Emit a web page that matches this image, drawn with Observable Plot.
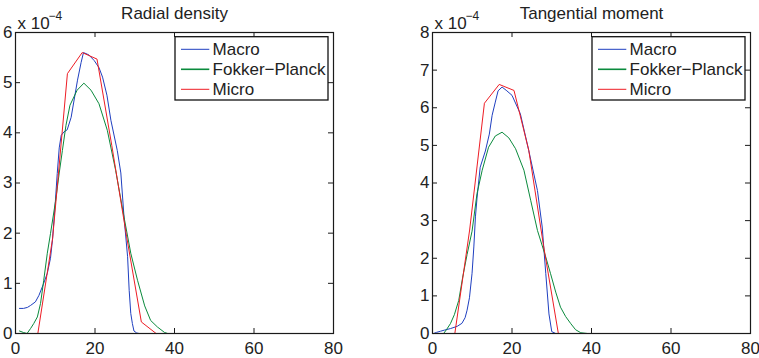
<!DOCTYPE html>
<html><head><meta charset="utf-8">
<script src="https://cdn.jsdelivr.net/npm/d3@7"></script>
<script src="https://cdn.jsdelivr.net/npm/@observablehq/plot@0.6"></script>
<style>
body{margin:0;background:#fff;}
#wrap{display:flex;width:759px;height:358px;font-family:"Liberation Sans",Arial,Helvetica,sans-serif;}
#wrap svg{overflow:visible;display:block;}
</style></head><body><div id="wrap"></div>
<script>
// ---- data (y values in units of 1e-4) ----
const seriesNames = ["Macro", "Fokker\u2212Planck", "Micro"];
const seriesColors = ["#1f3fc0", "#0a8a3c", "#ee1c24"];
const xTicks = [0, 20, 40, 60, 80];
const yTicksRadial = [0, 1, 2, 3, 4, 5, 6];
const yTicksTang = [0, 1, 2, 3, 4, 5, 6, 7, 8];

// Micro (coarse grid)
const microX = [1.9, 5.62, 9.34, 13.06, 16.78, 20.5, 24.22, 27.94, 31.66, 35.38, 39.1, 42.82, 46.54, 50.26, 53.98, 57.7, 61.42, 65.14, 68.86, 72.58];
const radialMicro = [0, 0, 1.9, 5.18, 5.60, 5.47, 3.75, 1.94, 0.23, 0, 0, 0, 0, 0, 0, 0, 0, 0, 0, 0];
const tangMicro = [0, 0, 2.75, 6.12, 6.62, 6.46, 4.87, 2.33, 0, 0, 0, 0, 0, 0, 0, 0, 0, 0, 0, 0];

// Macro, radial density
const radialMacroX = [1.0, 2.0, 3.0, 3.8, 5.0, 5.9, 7.0, 8.0, 8.8, 9.3, 10.0, 10.5, 11.0, 11.5, 12.2, 13.0, 14.0, 15.6, 16.5, 17.1, 18.0, 18.5, 19.8, 21.0, 21.9, 23.0, 24.0, 25.6, 26.5, 27.3, 28.2, 28.6, 29.0, 29.4, 29.8, 30.5, 31.1, 72.6];
const radialMacro = [0.50, 0.50, 0.52, 0.56, 0.63, 0.76, 0.98, 1.20, 1.50, 1.86, 2.60, 3.19, 3.70, 3.95, 4.02, 4.06, 4.31, 5.05, 5.40, 5.60, 5.57, 5.55, 5.44, 5.30, 5.11, 4.75, 4.25, 3.65, 3.20, 2.32, 1.53, 0.86, 0.40, 0.20, 0.05, 0.01, 0, 0];

// Fokker-Planck, radial density
const radialFPX = [1.0, 2.0, 2.9, 3.8, 4.6, 5.5, 6.3, 7.1, 8.0, 8.8, 10.1, 11.0, 11.8, 12.7, 13.7, 15.5, 17.2, 19.0, 21.0, 23.1, 25.2, 27.3, 29.0, 30.7, 32.5, 34.0, 35.7, 37.5, 38.3, 72.6];
const radialFP = [0.05, 0.02, 0.0, 0.1, 0.2, 0.33, 0.6, 1.06, 1.6, 1.99, 2.65, 3.2, 3.65, 4.15, 4.55, 4.85, 4.99, 4.85, 4.58, 4.05, 3.25, 2.32, 1.6, 1.06, 0.55, 0.26, 0.13, 0.02, 0, 0];

// Macro, tangential moment
const tangMacroX = [0.3, 1.0, 2.0, 3.0, 4.5, 6.2, 7.4, 8.2, 8.7, 9.3, 9.95, 10.4, 10.8, 11.2, 12.0, 13.3, 14.3, 15.0, 15.8, 16.5, 17.5, 18.7, 20.0, 22.1, 24.2, 26.4, 27.6, 28.5, 29.3, 30.0, 31.0, 72.6];
const tangMacro = [0, 0.03, 0.06, 0.09, 0.13, 0.19, 0.27, 0.42, 0.62, 0.95, 1.6, 2.3, 3.1, 3.6, 4.42, 4.85, 5.3, 5.8, 6.15, 6.45, 6.55, 6.45, 6.33, 5.84, 4.87, 3.8, 2.83, 1.59, 0.52, 0.05, 0, 0];

// Fokker-Planck, tangential moment
const tangFPX = [2.8, 3.5, 4.5, 5.5, 6.6, 7.6, 8.7, 9.95, 11.2, 12.5, 14.1, 15.8, 17.5, 19.2, 20.9, 23.0, 24.7, 26.4, 28.5, 29.7, 31.0, 32.2, 33.5, 34.8, 36.0, 37.3, 39.0, 72.6];
const tangFP = [0, 0.1, 0.26, 0.5, 0.88, 1.5, 2.1, 2.72, 3.72, 4.34, 4.95, 5.25, 5.35, 5.2, 4.91, 4.34, 3.54, 2.74, 2.03, 1.59, 1.1, 0.7, 0.45, 0.26, 0.1, 0.02, 0, 0];

const zip = (xs, ys) => xs.map((x, i) => ({x, y: ys[i]}));

const FONT = 17;
const TXT = "#222";
const AX = "#1a1a1a";

function panel({title, width, ml, mr, yMax, yTicks, macro, fp, micro}) {
  const height = 358, mt = 32, mb = 25;
  const pw = width - ml - mr, ph = height - mt - mb;
  const series = [macro, fp, micro];
  const T = 5; // inward tick length
  const plot = Plot.plot({
    width, height,
    marginLeft: ml, marginRight: mr, marginTop: mt, marginBottom: mb,
    style: {fontFamily: '"Liberation Sans", Arial, sans-serif', fontSize: FONT + "px", color: TXT, background: "white"},
    x: {domain: [0, 80]},
    y: {domain: [0, yMax]},
    marks: [
      ...series.map((d, i) => Plot.line(d, {x: "x", y: "y", stroke: seriesColors[i], strokeWidth: 1})),
      Plot.frame({stroke: AX, strokeWidth: 1.2}),
      Plot.ruleX(xTicks, {x: d => d, insetTop: ph - T, stroke: AX, strokeWidth: 1}),
      Plot.ruleX(xTicks, {x: d => d, insetBottom: ph - T, stroke: AX, strokeWidth: 1}),
      Plot.ruleY(yTicks, {y: d => d, insetLeft: pw - T, stroke: AX, strokeWidth: 1}),
      Plot.ruleY(yTicks, {y: d => d, insetRight: pw - T, stroke: AX, strokeWidth: 1}),
      Plot.axisX({ticks: xTicks, tickFormat: d => String(d), tickSize: 0, tickPadding: 8, label: null, fontSize: FONT, fill: TXT}),
      Plot.axisY({ticks: yTicks, tickFormat: d => String(d), tickSize: 0, tickPadding: 3, label: null, fontSize: FONT, fill: TXT}),
      Plot.text([title], {frameAnchor: "top", dy: -19, lineAnchor: "middle", fontSize: FONT, fill: TXT}),
      Plot.text(["x 10"], {frameAnchor: "top-left", dx: 2, dy: -9, textAnchor: "start", lineAnchor: "middle", fontSize: FONT, fill: TXT}),
      Plot.text(["\u22124"], {frameAnchor: "top-left", dx: 33, dy: -16, textAnchor: "start", lineAnchor: "middle", fontSize: 12, fill: TXT})
    ]
  });
  // legend box
  const bw = 153, bh = 63.3;
  const bx = width - mr - 5 - bw, by = mt + 4.7;
  const g = d3.select(plot).append("g");
  g.append("rect").attr("x", bx).attr("y", by).attr("width", bw).attr("height", bh)
    .attr("fill", "white").attr("stroke", "#111").attr("stroke-width", 1.3);
  seriesNames.forEach((name, i) => {
    const cy = by + 12.6 + i * 20;
    g.append("line").attr("x1", bx + 6).attr("x2", bx + 34.3).attr("y1", cy).attr("y2", cy)
      .attr("stroke", seriesColors[i]).attr("stroke-width", i === 1 ? 1.6 : 1);
    g.append("text").attr("x", bx + 37.6).attr("y", cy).attr("dy", "0.35em")
      .attr("text-anchor", "start")
      .attr("font-size", FONT).attr("fill", TXT).text(name);
  });
  return plot;
}

const wrap = document.getElementById("wrap");
wrap.appendChild(panel({
  title: "Radial density", width: 379, ml: 15, mr: 46, yMax: 6, yTicks: yTicksRadial,
  macro: zip(radialMacroX, radialMacro), fp: zip(radialFPX, radialFP), micro: zip(microX, radialMicro)
}));
wrap.appendChild(panel({
  title: "Tangential moment", width: 380, ml: 53, mr: 9, yMax: 8, yTicks: yTicksTang,
  macro: zip(tangMacroX, tangMacro), fp: zip(tangFPX, tangFP), micro: zip(microX, tangMicro)
}));
</script></body></html>
